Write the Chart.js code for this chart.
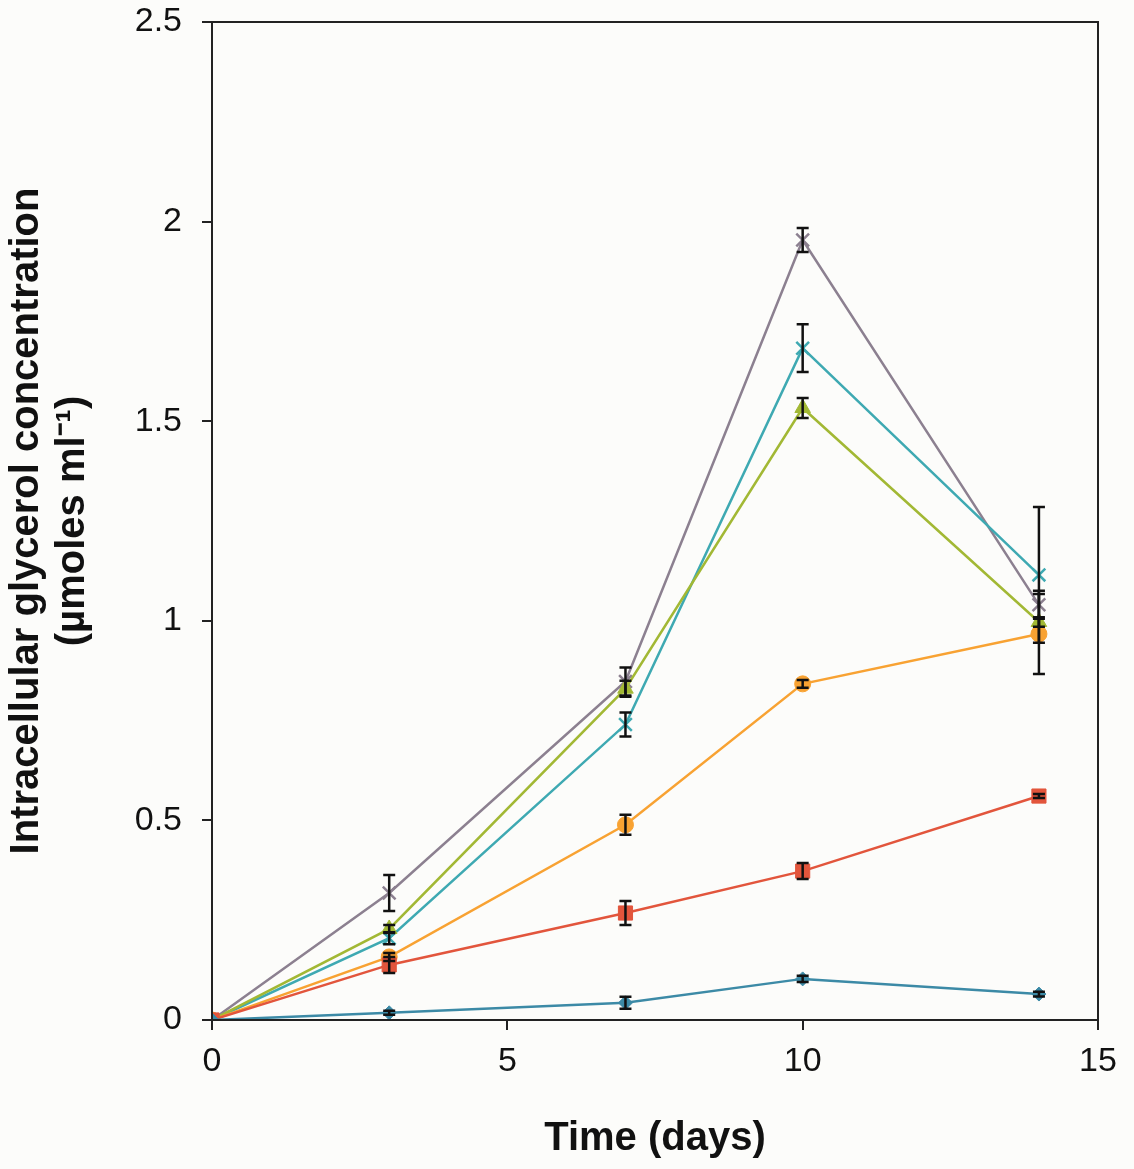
<!DOCTYPE html>
<html>
<head>
<meta charset="utf-8">
<script src="https://cdn.jsdelivr.net/npm/chart.js@4"></script>
<style>
  html, body { margin: 0; padding: 0; background: #fcfcfa; }
  #wrap { width: 1134px; height: 1169px; }
</style>
</head>
<body>
<div id="wrap"><canvas id="glycerolChart"></canvas></div>
<script>
const days = [0, 3, 7, 10, 14];
const xTicks = [0, 5, 10, 15];
const yTicks = [0, 0.5, 1, 1.5, 2, 2.5];

const blueVals = [0, 0.018, 0.043, 0.103, 0.065];
const blueErr = [0, 0.005, 0.015, 0.008, 0.006];
const redVals = [0, 0.138, 0.268, 0.373, 0.561];
const redErr = [0, 0.02, 0.03, 0.02, 0.005];
const orangeVals = [0, 0.158, 0.489, 0.842, 0.967];
const orangeErr = [0, 0.01, 0.025, 0.01, 0.1];
const greenVals = [0, 0.228, 0.83, 1.533, 0.997];
const greenErr = [0, 0.01, 0.02, 0.025, 0.012];
const cyanVals = [0, 0.205, 0.74, 1.683, 1.115];
const cyanErr = [0, 0.015, 0.03, 0.06, 0.17];
const grayVals = [0, 0.318, 0.848, 1.954, 1.04];
const grayErr = [0, 0.045, 0.035, 0.03, 0.035];

function toPoints(vals) {
    return days.map((d, i) => ({ x: d, y: vals[i] }));
}

function makeSet(vals, errs, color, style, radius) {
    return {
        data: toPoints(vals),
        errors: errs,
        borderColor: color,
        backgroundColor: color,
        pointBackgroundColor: color,
        pointBorderColor: color,
        pointStyle: style,
        pointRadius: radius,
        pointBorderWidth: style === 'crossRot' ? 2.5 : 1,
        borderWidth: 2.5,
        tension: 0
    };
}

// error bars + frame, drawn with the chart's own scales
const errorBars = {
    id: 'errorBars',
    afterDatasetsDraw(chart) {
        const ctx = chart.ctx;
        const xs = chart.scales.x, ys = chart.scales.y;
        ctx.save();
        ctx.strokeStyle = '#111';
        ctx.lineWidth = 2.5;
        chart.data.datasets.forEach(ds => {
            ds.data.forEach((p, i) => {
                const e = ds.errors[i];
                if (!e) return;
                const px = xs.getPixelForValue(p.x);
                const top = ys.getPixelForValue(p.y + e);
                const bot = ys.getPixelForValue(p.y - e);
                ctx.beginPath();
                ctx.moveTo(px, top); ctx.lineTo(px, bot);
                ctx.moveTo(px - 6, top); ctx.lineTo(px + 6, top);
                ctx.moveTo(px - 6, bot); ctx.lineTo(px + 6, bot);
                ctx.stroke();
            });
        });
        const a = chart.chartArea;
        ctx.lineWidth = 2;
        ctx.strokeStyle = '#222';
        ctx.strokeRect(a.left, a.top, a.right - a.left, a.bottom - a.top);
        ctx.restore();
    }
};

new Chart(document.getElementById('glycerolChart'), {
    type: 'line',
    data: {
        datasets: [
            makeSet(blueVals, blueErr, '#3c8aa6', 'rectRot', 7),
            makeSet(redVals, redErr, '#e2553c', 'rect', 10),
            makeSet(orangeVals, orangeErr, '#f8a232', 'circle', 8),
            makeSet(greenVals, greenErr, '#a2b834', 'triangle', 9),
            makeSet(cyanVals, cyanErr, '#3ea9b2', 'crossRot', 9),
            makeSet(grayVals, grayErr, '#8c8090', 'crossRot', 9)
        ]
    },
    options: {
        responsive: true,
        maintainAspectRatio: false,
        animation: false,
        layout: { padding: { top: 22, right: 36, left: 0, bottom: 0 } },
        plugins: { legend: { display: false }, tooltip: { enabled: false } },
        scales: {
            x: {
                type: 'linear',
                min: 0,
                max: 15,
                afterBuildTicks: s => { s.ticks = xTicks.map(v => ({ value: v })); },
                afterFit: s => { s.height = 149; s.paddingLeft = 0; s.paddingRight = 0; },
                grid: { drawOnChartArea: false, tickLength: 10, color: '#222', lineWidth: 2 },
                border: { color: '#222', width: 2 },
                ticks: {
                    color: '#111',
                    font: { family: 'Liberation Sans', size: 34 },
                    padding: 11,
                    callback: v => String(v)
                },
                title: {
                    display: true,
                    text: 'Time (days)',
                    color: '#111',
                    font: { family: 'Liberation Sans', size: 40, weight: 'bold' },
                    padding: { top: 4, bottom: 6 }
                }
            },
            y: {
                min: 0,
                max: 2.5,
                afterBuildTicks: s => { s.ticks = yTicks.map(v => ({ value: v })); },
                afterFit: s => { s.width = 212; s.paddingTop = 0; s.paddingBottom = 0; },
                grid: { drawOnChartArea: false, tickLength: 10, color: '#222', lineWidth: 2 },
                border: { color: '#222', width: 2 },
                ticks: {
                    color: '#111',
                    font: { family: 'Liberation Sans', size: 34 },
                    padding: 20,
                    callback: v => String(v)
                },
                title: {
                    display: true,
                    text: ['Intracellular glycerol concentration', '(\u00b5moles ml\u207b\u00b9)'],
                    color: '#111',
                    font: { family: 'Liberation Sans', size: 40, weight: 'bold', lineHeight: 1.15 },
                    padding: { top: 4, bottom: 0 }
                }
            }
        }
    },
    plugins: [errorBars]
});
</script>
</body>
</html>
